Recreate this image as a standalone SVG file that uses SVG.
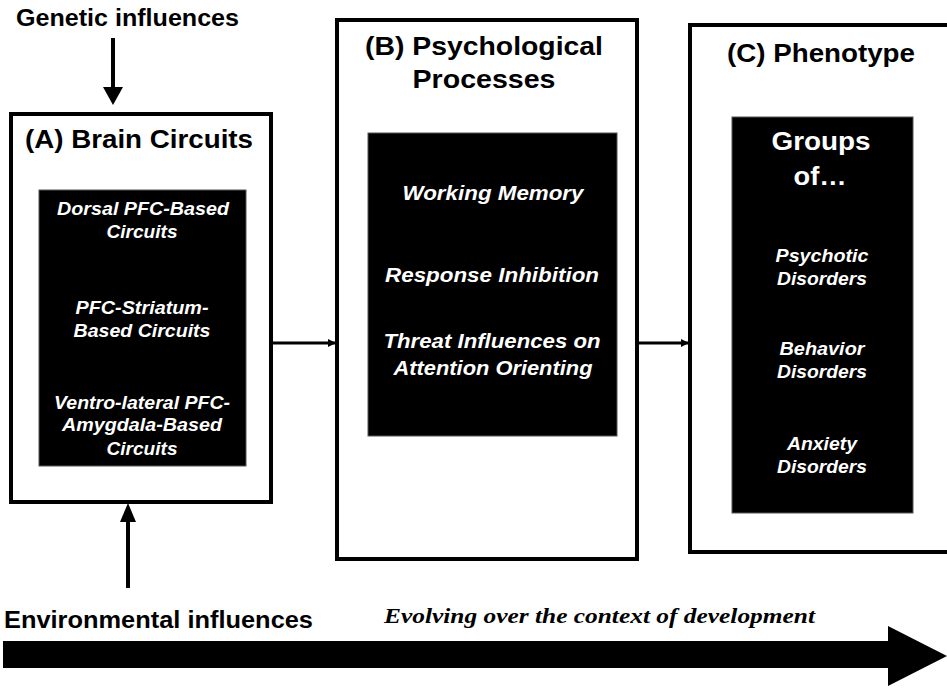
<svg xmlns="http://www.w3.org/2000/svg" width="947" height="688" viewBox="0 0 947 688">
<defs>
<style>
.box{fill:#fff;stroke:#000;stroke-width:4}
.inner{fill:#000;stroke:#555;stroke-width:1}
.ttl{font-family:"Liberation Sans",Arial,sans-serif;font-weight:bold;font-size:25px;fill:#000;text-anchor:middle}
.lbl{font-family:"Liberation Sans",Arial,sans-serif;font-weight:bold;font-size:23px;fill:#000}
.wi{font-family:"Liberation Sans",Arial,sans-serif;font-weight:bold;font-style:italic;font-size:18.5px;fill:#fff;text-anchor:middle}
.wm{font-family:"Liberation Sans",Arial,sans-serif;font-weight:bold;font-style:italic;font-size:20px;fill:#fff;text-anchor:middle}
.wb{font-family:"Liberation Sans",Arial,sans-serif;font-weight:bold;font-size:26px;fill:#fff;text-anchor:middle}
.line{stroke:#000;fill:none}
</style>
<marker id="ah" markerWidth="8" markerHeight="8" refX="7" refY="4" orient="auto" markerUnits="userSpaceOnUse">
<path d="M0,0 L8,4 L0,8 z" fill="#000"/>
</marker>
</defs>

<g id="nodeA">
<rect class="box" x="11" y="114" width="260" height="388"/>
<text class="ttl" x="139" y="148" textLength="228" lengthAdjust="spacingAndGlyphs">(A) Brain Circuits</text>
<rect class="inner" x="39" y="190" width="207" height="276"/>
<text class="wi" x="143" y="215" textLength="172" lengthAdjust="spacingAndGlyphs">Dorsal PFC-Based</text>
<text class="wi" x="142" y="238" textLength="71" lengthAdjust="spacingAndGlyphs">Circuits</text>
<text class="wi" x="142" y="314" textLength="133" lengthAdjust="spacingAndGlyphs">PFC-Striatum-</text>
<text class="wi" x="142" y="337" textLength="137" lengthAdjust="spacingAndGlyphs">Based Circuits</text>
<text class="wi" x="142" y="409" textLength="176" lengthAdjust="spacingAndGlyphs">Ventro-lateral PFC-</text>
<text class="wi" x="142" y="431" textLength="160" lengthAdjust="spacingAndGlyphs">Amygdala-Based</text>
<text class="wi" x="142" y="455" textLength="71" lengthAdjust="spacingAndGlyphs">Circuits</text>
</g>

<g id="nodeB">
<rect class="box" x="337" y="20" width="300" height="539"/>
<text class="ttl" x="484" y="55" textLength="238" lengthAdjust="spacingAndGlyphs">(B) Psychological</text>
<text class="ttl" x="484" y="88" textLength="143" lengthAdjust="spacingAndGlyphs">Processes</text>
<rect class="inner" x="368" y="133" width="249" height="303"/>
<text class="wm" x="493" y="200" textLength="181" lengthAdjust="spacingAndGlyphs">Working Memory</text>
<text class="wm" x="492" y="282" textLength="214" lengthAdjust="spacingAndGlyphs">Response Inhibition</text>
<text class="wm" x="492" y="348" textLength="217" lengthAdjust="spacingAndGlyphs">Threat Influences on</text>
<text class="wm" x="493" y="375" textLength="199" lengthAdjust="spacingAndGlyphs">Attention Orienting</text>
</g>

<g id="nodeC">
<rect class="box" x="690" y="25" width="270" height="527"/>
<text class="ttl" x="821" y="62" textLength="188" lengthAdjust="spacingAndGlyphs">(C) Phenotype</text>
<rect class="inner" x="732" y="117" width="181" height="396"/>
<text class="wb" x="821" y="150" textLength="99" lengthAdjust="spacingAndGlyphs">Groups</text>
<text class="wb" x="820" y="185" textLength="53" lengthAdjust="spacingAndGlyphs">of…</text>
<text class="wi" x="822" y="262" textLength="93" lengthAdjust="spacingAndGlyphs">Psychotic</text>
<text class="wi" x="822" y="285" textLength="90" lengthAdjust="spacingAndGlyphs">Disorders</text>
<text class="wi" x="822" y="355" textLength="85" lengthAdjust="spacingAndGlyphs">Behavior</text>
<text class="wi" x="822" y="378" textLength="90" lengthAdjust="spacingAndGlyphs">Disorders</text>
<text class="wi" x="822" y="450" textLength="70" lengthAdjust="spacingAndGlyphs">Anxiety</text>
<text class="wi" x="822" y="473" textLength="90" lengthAdjust="spacingAndGlyphs">Disorders</text>
</g>

<g id="genetic">
<text class="lbl" x="16" y="26" textLength="223" lengthAdjust="spacingAndGlyphs">Genetic influences</text>
</g>
<g id="environmental">
<text class="lbl" x="4" y="628" textLength="309" lengthAdjust="spacingAndGlyphs">Environmental influences</text>
</g>
<g id="development">
<text x="384" y="623" textLength="431" lengthAdjust="spacingAndGlyphs" style="font-family:'Liberation Serif','Times New Roman',serif;font-weight:bold;font-style:italic;font-size:22px;fill:#000">Evolving over the context of development</text>
</g>

<g id="connectors">
<line class="line" x1="113" y1="38" x2="113" y2="88" stroke-width="4"/>
<path d="M103,87 L123,87 L113,105 z" fill="#000"/>
<line class="line" x1="128" y1="588" x2="128" y2="520" stroke-width="4"/>
<path d="M120,522 L136,522 L128,503 z" fill="#000"/>
<line class="line" x1="273" y1="343" x2="335" y2="343" stroke-width="3" marker-end="url(#ah)"/>
<line class="line" x1="639" y1="343" x2="688" y2="343" stroke-width="3" marker-end="url(#ah)"/>
<path d="M3,641 L888,641 L888,626 L947,656 L888,686 L888,668 L3,668 z" fill="#000"/>
</g>
</svg>
